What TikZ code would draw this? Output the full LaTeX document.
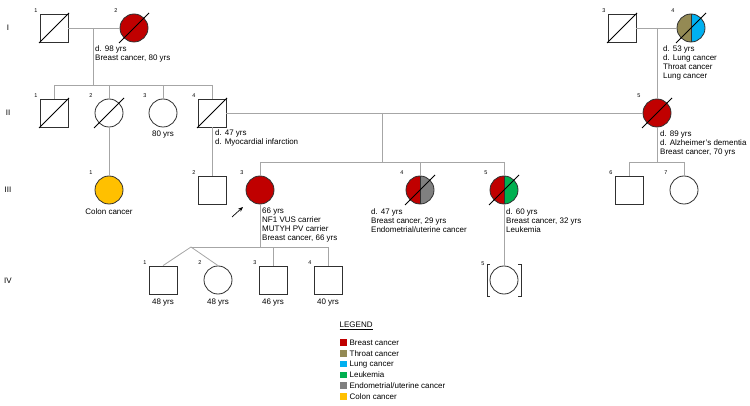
\documentclass[tikz,border=0pt]{standalone}
\usepackage{fontspec}
\setmainfont{Liberation Sans}
\usetikzlibrary{arrows.meta, positioning, calc}
\definecolor{breastred}{HTML}{C00000}
\definecolor{throatol}{HTML}{948A54}
\definecolor{lungblue}{HTML}{00B0F0}
\definecolor{leukgreen}{HTML}{00B050}
\definecolor{endogray}{HTML}{808080}
\definecolor{colonyel}{HTML}{FFC000}
\definecolor{linegray}{HTML}{A6A6A6}
\definecolor{symline}{HTML}{303030}
\tikzset{
    male/.style={rectangle, draw=symline, fill=white, line width=0.8pt, minimum size=28pt, inner sep=0pt},
    female/.style={circle, draw=symline, fill=white, line width=0.8pt, minimum size=28pt, inner sep=0pt},
    halves/.style 2 args={path picture={
        \fill[#1] (path picture bounding box.north west) rectangle (path picture bounding box.south);
        \fill[#2] (path picture bounding box.north) rectangle (path picture bounding box.south east);
        \draw[symline, line width=0.8pt] (path picture bounding box.north) -- (path picture bounding box.south);}},
    idlabel/.style={font=\fontsize{5.5}{6}\selectfont, inner sep=0pt, xshift=-18pt, yshift=17pt},
    gen/.style={font=\fontsize{8}{9}\selectfont, inner sep=0pt},
    note/.style={align=left, anchor=north west, inner sep=0pt, font=\fontsize{8}{9}\selectfont},
    age/.style={inner sep=0pt, font=\fontsize{8}{9}\selectfont},
    link/.style={draw=linegray, line width=0.8pt},
    slash/.style={black, line width=0.8pt},
    legbox/.style={rectangle, minimum size=6.5pt, inner sep=0pt},
    legtext/.style={inner sep=0pt, font=\fontsize{8}{9}\selectfont}
}
\newcommand{\deceased}[1]{\draw[slash] ([shift={(-15,15)}]#1.center) -- ([shift={(15,-15)}]#1.center);}

\begin{document}
\begin{tikzpicture}[x=1pt, y=-1pt]
    \useasboundingbox (0,0) rectangle (750,406);

    % generations
    \node[gen] (g1) at (8,28) {I};
    \node[gen] (g2) at (8,113) {II};
    \node[gen] (g3) at (8,190) {III};
    \node[gen] (g4) at (8,281) {IV};

    % junction points
    \coordinate (c12) at (93,28);
    \coordinate (s1) at (93,85);
    \coordinate (s1l) at (54,85);
    \coordinate (s1r) at (212,85);
    \coordinate (c34) at (657,28);
    \coordinate (c45) at (382,113);
    \coordinate (s3) at (382,162);
    \coordinate (s3l) at (260,162);
    \coordinate (s3r) at (504,162);
    \coordinate (s5) at (657,162);
    \coordinate (s5l) at (629,162);
    \coordinate (s5r) at (684,162);
    \coordinate (s4l) at (191,247);
    \coordinate (s4m) at (260,247);
    \coordinate (s4r) at (328,247);

    % generation I
    \node[male, label={[idlabel]center:1}] (i1) at (54,28) {};
    \node[female, fill=breastred, label={[idlabel]center:2}] (i2) at (134,28) {};
    \node[male, label={[idlabel]center:3}] (i3) at (622,28) {};
    \node[female, halves={throatol}{lungblue}, label={[idlabel]center:4}] (i4) at (691,28) {};

    % generation II
    \node[male, label={[idlabel]center:1}] (ii1) at (54,113) {};
    \node[female, label={[idlabel]center:2}] (ii2) at (109,113) {};
    \node[female, label={[idlabel]center:3}] (ii3) at (163,113) {};
    \node[male, label={[idlabel]center:4}] (ii4) at (212,113) {};
    \node[female, fill=breastred, label={[idlabel]center:5}] (ii5) at (657,113) {};

    % generation III
    \node[female, fill=colonyel, label={[idlabel]center:1}] (iii1) at (109,190) {};
    \node[male, label={[idlabel]center:2}] (iii2) at (212,190) {};
    \node[female, fill=breastred, label={[idlabel]center:3}] (iii3) at (260,190) {};
    \node[female, halves={breastred}{endogray}, label={[idlabel]center:4}] (iii4) at (420,190) {};
    \node[female, halves={breastred}{leukgreen}, label={[idlabel]center:5}] (iii5) at (504,190) {};
    \node[male, label={[idlabel]center:6}] (iii6) at (629,190) {};
    \node[female, label={[idlabel]center:7}] (iii7) at (684,190) {};

    % generation IV
    \node[male, label={[idlabel]center:1}] (iv1) at (163,280) {};
    \node[female, label={[idlabel]center:2}] (iv2) at (218,280) {};
    \node[male, label={[idlabel]center:3}] (iv3) at (273,280) {};
    \node[male, label={[idlabel]center:4}] (iv4) at (328,280) {};
    \node[female, label={[idlabel, xshift=-3pt, yshift=-1pt]center:5}] (iv5) at (504,280) {};

    % lines of descent
    \draw[link] (i1) -- (i2);
    \draw[link] (c12) -- (s1);
    \draw[link] (s1l) -- (s1r);
    \draw[link] (s1l) -- (ii1.north);
    \draw[link] (ii2.north |- s1) -- (ii2.north);
    \draw[link] (ii3.north |- s1) -- (ii3.north);
    \draw[link] (s1r) -- (ii4.north);
    \draw[link] (i3) -- (i4);
    \draw[link] (c34) -- (ii5.north);
    \draw[link] (ii4) -- (ii5);
    \draw[link] (c45) -- (s3);
    \draw[link] (s3l) -- (s3r);
    \draw[link] (s3l) -- (iii3.north);
    \draw[link] (iii4.north |- s3) -- (iii4.north);
    \draw[link] (s3r) -- (iii5.north);
    \draw[link] (ii2.south) -- (iii1.north);
    \draw[link] (ii4.south) -- (iii2.north);
    \draw[link] (ii5.south) -- (s5);
    \draw[link] (s5l) -- (s5r);
    \draw[link] (s5l) -- (iii6.north);
    \draw[link] (s5r) -- (iii7.north);
    \draw[link] (iii3.south) -- (s4m);
    \draw[link] (s4l) -- (s4r);
    \draw[link] (s4l) -- (iv1.north);
    \draw[link] (s4l) -- (iv2.north);
    \draw[link] (iv3.north |- s4l) -- (iv3.north);
    \draw[link] (s4r) -- (iv4.north);
    \draw[link] (iii5.south) -- (iv5.north);

    % deceased
    \deceased{i1}
    \deceased{i2}
    \deceased{i3}
    \deceased{i4}
    \deceased{ii1}
    \deceased{ii2}
    \deceased{ii4}
    \deceased{ii5}
    \deceased{iii4}
    \deceased{iii5}

    % brackets
    \draw[symline, line width=0.8pt] ([shift={(-14,-16)}]iv5.center) -- ++(-3,0) -- ++(0,32) -- ++(3,0);
    \draw[symline, line width=0.8pt] ([shift={(14,-16)}]iv5.center) -- ++(3,0) -- ++(0,32) -- ++(-3,0);

    % proband
    \coordinate (ptail) at (232,217);
    \coordinate (ptip) at (243,207);
    \draw[-{Stealth[length=5pt, width=4pt]}, line width=0.7pt] (ptail) -- (ptip);

    % notes
    \node[note] (n_i2) at (95,45.5) {d. 98 yrs\\Breast cancer, 80 yrs};
    \node[note] (n_i4) at (663,45.5) {d. 53 yrs\\d. Lung cancer\\Throat cancer\\Lung cancer};
    \node[age] (n_ii3) at (163,135) {80 yrs};
    \node[note] (n_ii4) at (215,129.5) {d. 47 yrs\\d. Myocardial infarction};
    \node[note] (n_ii5) at (660,130.5) {d. 89 yrs\\d. Alzheimer's dementia\\Breast cancer, 70 yrs};
    \node[age] (n_iii1) at (109,212) {Colon cancer};
    \node[note] (n_iii3) at (262,207.5) {66 yrs\\NF1 VUS carrier\\MUTYH PV carrier\\Breast cancer, 66 yrs};
    \node[note] (n_iii4) at (371,208.5) {d. 47 yrs\\Breast cancer, 29 yrs\\Endometrial/uterine cancer};
    \node[note] (n_iii5) at (506,208.5) {d. 60 yrs\\Breast cancer, 32 yrs\\Leukemia};
    \node[age] (n_iv1) at (163,303) {48 yrs};
    \node[age] (n_iv2) at (218,303) {48 yrs};
    \node[age] (n_iv3) at (273,303) {46 yrs};
    \node[age] (n_iv4) at (328,303) {40 yrs};

    % legend
    \node[legtext, anchor=west] (legtitle) at (339.5,326) {\underline{LEGEND}};
    \node[legbox, fill=breastred] (lb1) at (343.5,342.5) {};
    \node[legbox, fill=throatol, below=3.9pt of lb1] (lb2) {};
    \node[legbox, fill=lungblue, below=3.9pt of lb2] (lb3) {};
    \node[legbox, fill=leukgreen, below=3.9pt of lb3] (lb4) {};
    \node[legbox, fill=endogray, below=3.9pt of lb4] (lb5) {};
    \node[legbox, fill=colonyel, below=3.9pt of lb5] (lb6) {};
    \node[legtext, right=2.5pt of lb1] (lt1) {Breast cancer};
    \node[legtext, right=2.5pt of lb2] (lt2) {Throat cancer};
    \node[legtext, right=2.5pt of lb3] (lt3) {Lung cancer};
    \node[legtext, right=2.5pt of lb4] (lt4) {Leukemia};
    \node[legtext, right=2.5pt of lb5] (lt5) {Endometrial/uterine cancer};
    \node[legtext, right=2.5pt of lb6] (lt6) {Colon cancer};
\end{tikzpicture}
\end{document}
